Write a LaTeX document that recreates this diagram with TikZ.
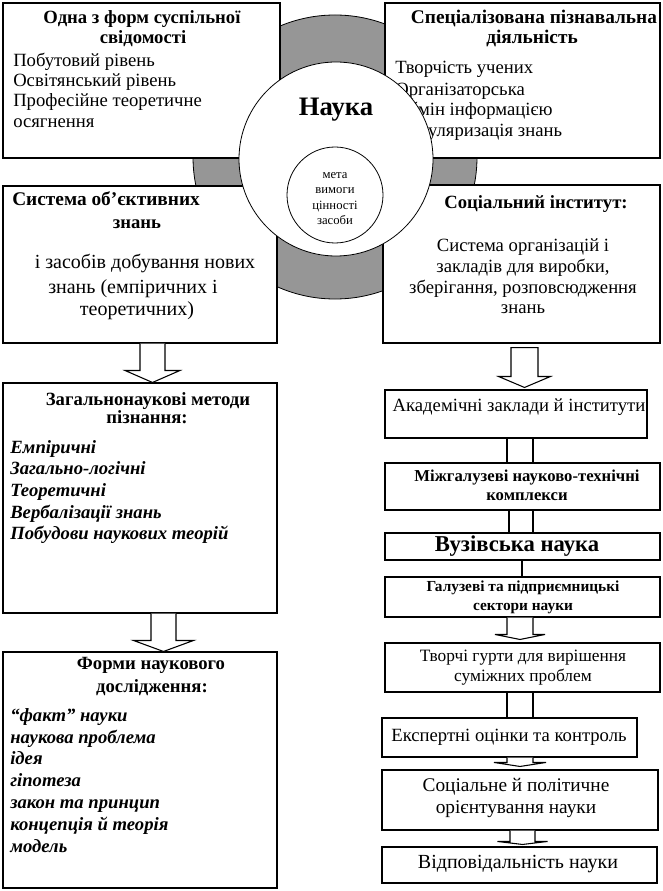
\documentclass[tikz,border=0pt]{standalone}
\usepackage{fontspec}
\setmainfont{Liberation Serif}
\usetikzlibrary{calc,fit}
\definecolor{ringgray}{RGB}{150,150,150}
\newcommand\fsz[1]{\fontsize{#1}{#1}\selectfont}
\newcommand\blk[5]{\draw[arrw] ($(#1)+(-#3,0)$) -- ($(#2)+(-#3,-#5)$) -- ($(#2)+(-#4,-#5)$) -- (#2) -- ($(#2)+(#4,-#5)$) -- ($(#2)+(#3,-#5)$) -- ($(#1)+(#3,0)$);}
\newcommand\blkc[5]{\draw[arrw] ($(#1)+(-#3,0)$) -- ($(#2)+(-#3,-#5)$) -- ($(#2)+(-#4,-#5)$) -- (#2) -- ($(#2)+(#4,-#5)$) -- ($(#2)+(#3,-#5)$) -- ($(#1)+(#3,0)$) -- cycle;}
\begin{document}
\begin{tikzpicture}[x=0.75pt,y=-0.75pt,
  box/.style={draw=black,fill=white,inner sep=0pt,line width=0.8pt},
  arrw/.style={draw=black,fill=white,line width=0.8pt,line join=miter},
  conn/.style={draw=black,line width=0.8pt},
  ln/.style={inner sep=0pt,anchor=mid west},
  cl/.style={inner sep=0pt,anchor=mid},
  tb/.style={font=\fsz{14}\bfseries},
  bd/.style={font=\fsz{14}},
  bi/.style={font=\fsz{14}\bfseries\itshape}]
\useasboundingbox (0,0) rectangle (662,891);
\fill[white] (0,0) rectangle (662,891);
% gray ring behind
\node[circle,draw=black,fill=ringgray,line width=0.6pt,inner sep=0pt,minimum size=213pt] (ring) at (335,157) {};
% boxes
\node[box,fit={(3,3) (280,158)}] (tl) {};
\node[box,fit={(385,3) (660,158)}] (tr) {};
\node[box,fit={(3,186) (277,343)}] (ml) {};
\node[box,fit={(383,185) (660,343)}] (mr) {};
\node[box,fit={(3,383) (277,613)}] (gm) {};
\node[box,fit={(3,652) (277,888)}] (fm) {};
\node[box,fit={(385,390) (647,438)}] (ak) {};
\node[box,fit={(385,463) (660,510)}] (mz) {};
\node[box,fit={(385,533) (660,560)}] (vz) {};
\node[box,fit={(385,577) (660,617)}] (gl) {};
\node[box,fit={(385,643) (660,692)}] (tg) {};
\node[box,fit={(382,718) (637,757)}] (ek) {};
\node[box,fit={(382,770) (658,830)}] (sp) {};
\node[box,fit={(382,847) (657,883)}] (vd) {};
% top-left text
\node[tb,cl] (tlh1) at (142,20) {Одна з форм суспільної};
\node[tb,cl] (tlh2) at (143,40) {свідомості};
\node[bd,ln] (tlb1) at (13,63) {Побутовий рівень};
\node[bd,ln] (tlb2) at (13,83) {Освітянський рівень};
\node[bd,ln] (tlb3) at (13,103) {Професійне теоретичне};
\node[bd,ln] (tlb4) at (13,124) {осягнення};
% top-right text
\node[font=\fsz{14.5}\bfseries,cl] (trh1) at (534,20) {Спеціалізована пізнавальна};
\node[font=\fsz{14.5}\bfseries,cl] (trh2) at (532,40) {діяльність};
\node[bd,ln] (trb1) at (395,70) {Творчість учених};
\node[bd,ln] (trb2) at (395,92) {Організаторська};
\node[bd,ln] (trb3) at (395,112) {Обмін інформацією};
\node[bd,ln] (trb4) at (395,133) {Популяризація знань};
% mid-left text
\node[font=\fsz{14.5}\bfseries,ln] (mlh1) at (12,202) {Система об’єктивних};
\node[tb,cl] (mlh2) at (137,225) {знань};
\node[font=\fsz{15},cl] (mlb1) at (145,265) {і засобів добування нових};
\node[font=\fsz{15},cl] (mlb2) at (133,290) {знань (емпіричних і};
\node[font=\fsz{15},cl] (mlb3) at (137,312) {теоретичних)};
% mid-right text
\node[tb,cl] (mrh1) at (536,205) {Соціальний інститут:};
\node[bd,cl] (mrb1) at (523,248) {Система організацій і};
\node[bd,cl] (mrb2) at (523,269) {закладів для виробки,};
\node[bd,cl] (mrb3) at (523,290) {зберігання, розповсюдження};
\node[bd,cl] (mrb4) at (523,310) {знань};
% central circles
\node[circle,draw=black,fill=white,line width=0.6pt,inner sep=0pt,minimum size=145.5pt] (sci) at (336,159) {};
\node[font=\fsz{20}\bfseries,cl] (nauka) at (336,112) {Наука};
\node[circle,draw=black,fill=white,line width=0.6pt,inner sep=0pt,minimum size=72pt] (core) at (335,195) {};
\node[font=\fsz{9.5},cl] (c1) at (335,175) {мета};
\node[font=\fsz{9.5},cl] (c2) at (335,190) {вимоги};
\node[font=\fsz{9.5},cl] (c3) at (335,206) {цінності};
\node[font=\fsz{9.5},cl] (c4) at (335,221) {засоби};
% general methods
\node[tb,cl] (gmh1) at (148,402) {Загальнонаукові методи};
\node[tb,cl] (gmh2) at (147,420) {пізнання:};
\node[bi,ln] (gmb1) at (10,450) {Емпіричні};
\node[bi,ln] (gmb2) at (10,471) {Загально-логічні};
\node[bi,ln] (gmb3) at (10,493) {Теоретичні};
\node[bi,ln] (gmb4) at (10,515) {Вербалізації знань};
\node[bi,ln] (gmb5) at (10,536) {Побудови наукових теорій};
% forms
\node[tb,cl] (fmh1) at (151,666) {Форми наукового};
\node[tb,cl] (fmh2) at (152,689) {дослідження:};
\node[bi,ln] (fmb1) at (10,718) {“факт” науки};
\node[bi,ln] (fmb2) at (10,740) {наукова проблема};
\node[bi,ln] (fmb3) at (10,761) {ідея};
\node[bi,ln] (fmb4) at (10,783) {гіпотеза};
\node[bi,ln] (fmb5) at (10,805) {закон та принцип};
\node[bi,ln] (fmb6) at (10,827) {концепція й теорія};
\node[bi,ln] (fmb7) at (10,849) {модель};
% right column texts
\node[font=\fsz{14},cl] (akt) at (519,408) {Академічні заклади й інститути};
\node[font=\fsz{12.5}\bfseries,cl] (mzt1) at (527,478) {Міжгалузеві науково-технічні};
\node[font=\fsz{12.5}\bfseries,cl] (mzt2) at (527,497) {комплекси};
\node[font=\fsz{17}\bfseries,cl] (vzt) at (517,548) {Вузівська наука};
\node[font=\fsz{11.5}\bfseries,cl] (glt1) at (523,588) {Галузеві та підприємницькі};
\node[font=\fsz{11.5}\bfseries,cl] (glt2) at (523,607) {сектори науки};
\node[font=\fsz{13}, cl] (tgt1) at (523,658) {Творчі гурти для вирішення};
\node[font=\fsz{13}, cl] (tgt2) at (523,678) {суміжних проблем};
\node[font=\fsz{14},cl] (ekt) at (509,738) {Експертні оцінки та контроль};
\node[font=\fsz{14.5},cl] (spt1) at (516,788) {Соціальне й політичне};
\node[font=\fsz{14.5},cl] (spt2) at (516,810) {орієнтування науки};
\node[font=\fsz{15},cl] (vdt) at (518,865) {Відповідальність науки};
% block arrows
\coordinate (axA) at (152.5,0);
\coordinate (axB) at (524.5,0);
\coordinate (axC) at (163.5,0);
\coordinate (axD) at (520,0);
\coordinate (axE) at (520,0);
\coordinate (axF) at (522.5,0);
\path (ml.south -| axA) coordinate (a1t) (gm.north -| axA) coordinate (a1p);
\blk{a1t}{a1p}{12.5}{27.5}{12}
\path ($(mr.south -| axB)+(0,4)$) coordinate (a2t) ($(ak.north -| axB)+(0,-2)$) coordinate (a2p);
\blkc{a2t}{a2p}{13.5}{26}{11}
\path (gm.south -| axC) coordinate (a3t) (fm.north -| axC) coordinate (a3p);
\blk{a3t}{a3p}{12.5}{30}{11}
\path (gl.south -| axD) coordinate (s1t) ($(tg.north -| axD)+(0,-3)$) coordinate (s1p);
\blk{s1t}{s1p}{13}{25}{5}
\path (ek.south -| axE) coordinate (s2t) ($(sp.north -| axE)+(0,-3)$) coordinate (s2p);
\blk{s2t}{s2p}{13}{26}{4}
\path (sp.south -| axF) coordinate (s3t) ($(vd.north -| axF)+(0,-2)$) coordinate (s3p);
\blk{s3t}{s3p}{12.5}{25}{3}
% plain connectors
\coordinate (cA) at (507,0);
\coordinate (cB) at (533,0);
\coordinate (cC) at (509,0);
\coordinate (cD) at (522,0);
\draw[conn] (ak.south -| cA) -- (mz.north -| cA);
\draw[conn] (ak.south -| cB) -- (mz.north -| cB);
\draw[conn] (mz.south -| cC) -- (vz.north -| cC);
\draw[conn] (mz.south -| cB) -- (vz.north -| cB);
\draw[conn] (vz.south -| cD) -- (gl.north -| cD);
\draw[conn] (tg.south -| cA) -- (ek.north -| cA);
\draw[conn] (tg.south -| cB) -- (ek.north -| cB);
\end{tikzpicture}
\end{document}
